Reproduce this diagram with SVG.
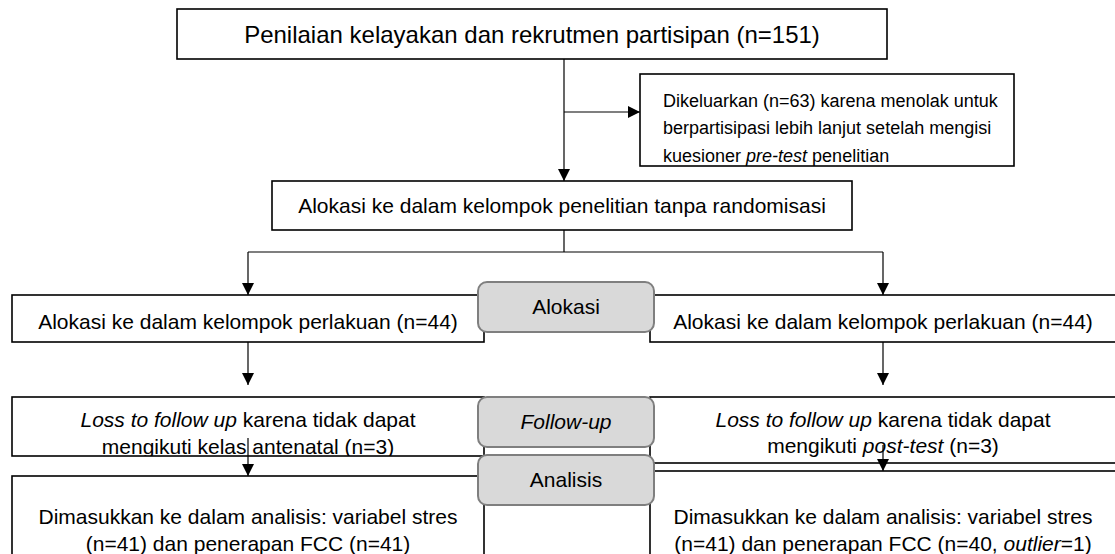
<svg xmlns="http://www.w3.org/2000/svg" width="1115" height="554" viewBox="0 0 1115 554">
<defs>
<style>
.box{fill:#fff;stroke:#000;stroke-width:1.6}
.pill{fill:#d9d9d9;stroke:#7f7f7f;stroke-width:2}
.t{font-family:"Liberation Sans",Arial,sans-serif;font-size:21px;fill:#000}
.s{font-size:18px}
.big{font-size:24px}
.c{text-anchor:middle}
.i{font-style:italic}
.ln{stroke:#000;stroke-width:1.2;fill:none}
</style>
<marker id="ah" viewBox="0 0 12 12" refX="12" refY="6" markerWidth="12" markerHeight="12" markerUnits="userSpaceOnUse" orient="auto">
<path d="M0,0 L12,6 L0,12 Z" fill="#000"/>
</marker>
<clipPath id="cpD"><rect x="640" y="74" width="374" height="92"/></clipPath>
<clipPath id="cpL"><rect x="12" y="397" width="472" height="59"/></clipPath>
</defs>
<rect width="1115" height="554" fill="#fff"/>
<g id="connectors">
<line class="ln" x1="564" y1="59" x2="564" y2="181" marker-end="url(#ah)"/>
<line class="ln" x1="564" y1="112" x2="640" y2="112" marker-end="url(#ah)"/>
<polyline class="ln" points="564,230 564,252"/>
<polyline class="ln" points="248,252 883,252"/>
<line class="ln" x1="248" y1="252" x2="248" y2="295" marker-end="url(#ah)"/>
<line class="ln" x1="883" y1="252" x2="883" y2="295" marker-end="url(#ah)"/>
<line class="ln" x1="248" y1="342" x2="248" y2="385" marker-end="url(#ah)"/>
<line class="ln" x1="883" y1="342" x2="883" y2="385" marker-end="url(#ah)"/>
</g>
<g id="n-top">
<rect class="box" x="177" y="9" width="710" height="50" stroke-width="2"/>
<text class="t big c" x="532" y="43">Penilaian kelayakan dan rekrutmen partisipan (n=151)</text>
</g>
<g id="n-excluded">
<rect class="box" x="640" y="74" width="374" height="92"/>
<g clip-path="url(#cpD)">
<text class="t s" x="663" y="107">Dikeluarkan (n=63) karena menolak untuk</text>
<text class="t s" x="663" y="134">berpartisipasi lebih lanjut setelah mengisi</text>
<text class="t s" x="663" y="162">kuesioner <tspan class="i">pre-test</tspan> penelitian</text>
</g>
</g>
<g id="n-alloc">
<rect class="box" x="272" y="181" width="580" height="49"/>
<text class="t c" x="562" y="213">Alokasi ke dalam kelompok penelitian tanpa randomisasi</text>
</g>
<g id="n-left-alloc">
<rect class="box" x="12" y="295" width="472" height="47"/>
<text class="t c" x="248" y="329">Alokasi ke dalam kelompok perlakuan (n=44)</text>
</g>
<g id="n-right-alloc">
<rect class="box" x="650" y="295" width="470" height="47"/>
<text class="t c" x="883" y="329">Alokasi ke dalam kelompok perlakuan (n=44)</text>
</g>
<g id="n-left-loss">
<rect class="box" x="12" y="397" width="472" height="59"/>
<g clip-path="url(#cpL)">
<text class="t c" x="248" y="427"><tspan class="i">Loss to follow up</tspan> karena tidak dapat</text>
<text class="t c" x="248" y="454">mengikuti kelas antenatal (n=3)</text>
</g>
</g>
<g id="n-right-loss">
<rect class="box" x="650" y="397" width="470" height="66"/>
<text class="t c" x="883" y="427"><tspan class="i">Loss to follow up</tspan> karena tidak dapat</text>
<text class="t c" x="883" y="453">mengikuti <tspan class="i">post-test</tspan> (n=3)</text>
</g>
<g id="connectors-lower">
<line class="ln" x1="248" y1="438" x2="248" y2="476" marker-end="url(#ah)"/>
<line class="ln" x1="883" y1="445" x2="883" y2="471" marker-end="url(#ah)"/>
</g>
<g id="n-left-analysis">
<rect class="box" x="12" y="476" width="472" height="100"/>
<text class="t c" x="248" y="524">Dimasukkan ke dalam analisis: variabel stres</text>
<text class="t c" x="248" y="551">(n=41) dan penerapan FCC (n=41)</text>
</g>
<g id="n-right-analysis">
<rect class="box" x="650" y="471" width="470" height="100"/>
<text class="t c" x="883" y="524">Dimasukkan ke dalam analisis: variabel stres</text>
<text class="t c" x="883" y="551">(n=41) dan penerapan FCC (n=40, <tspan class="i">outlier</tspan>=1)</text>
</g>
<g id="p-alokasi">
<rect class="pill" x="478" y="282" width="176" height="50" rx="9"/>
<text class="t c" x="566" y="314">Alokasi</text>
</g>
<g id="p-followup">
<rect class="pill" x="478" y="397" width="176" height="50" rx="9"/>
<text class="t c i" x="566" y="429">Follow-up</text>
</g>
<g id="p-analisis">
<rect class="pill" x="478" y="455" width="176" height="50" rx="9"/>
<text class="t c" x="566" y="487">Analisis</text>
</g>
</svg>
